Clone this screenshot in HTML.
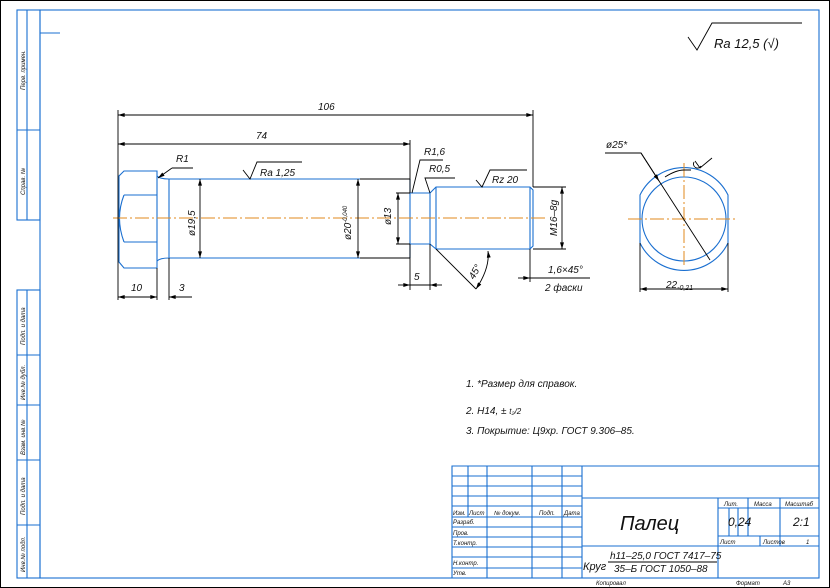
<!DOCTYPE html>
<html><head><meta charset="utf-8"><style>
html,body{margin:0;padding:0;background:#fff;}
svg{display:block;}
text{font-family:"Liberation Sans","DejaVu Sans",sans-serif;font-style:italic;fill:#111;}
</style></head><body>
<svg width="830" height="588" viewBox="0 0 830 588" xmlns="http://www.w3.org/2000/svg">
<defs>
<marker id="a" viewBox="0 0 10 6" refX="10" refY="3" markerWidth="8" markerHeight="4" orient="auto-start-reverse" markerUnits="userSpaceOnUse"><path d="M0,0 L10,3 L0,6z" fill="#000"/></marker>
</defs>
<rect x="0.5" y="0.5" width="829" height="587" fill="#fff" stroke="#000"/>
<g stroke="#1a6fd0" stroke-width="1.1" fill="none">
<rect x="40" y="10" width="779" height="568"/>
<rect x="17" y="10" width="23" height="210"/>
<line x1="27" y1="10" x2="27" y2="220"/><line x1="17" y1="130" x2="40" y2="130"/>
<rect x="17" y="290" width="23" height="288"/>
<line x1="27" y1="290" x2="27" y2="578"/>
<line x1="17" y1="355" x2="40" y2="355"/><line x1="17" y1="405" x2="40" y2="405"/>
<line x1="17" y1="460" x2="40" y2="460"/><line x1="17" y1="525" x2="40" y2="525"/>
<line x1="40" y1="33" x2="60" y2="33"/>
<path d="M452,578 V466 H819"/>
<path d="M452,476 H582 M452,486 H582 M452,496 H582 M452,506 H582 M452,517 H582 M452,527 H582 M452,537 H582 M452,547 H582 M452,557 H582 M452,568 H582"/>
<path d="M468,466 V517 M487,466 V578 M532,466 V578 M562,466 V578 M582,466 V578"/>
<path d="M582,498 H819 M718,508 H819 M718,536 H819 M582,546 H819 M718,498 V578 M748,498 V536 M780,498 V546 M729,508 V536 M738,508 V536 M760,536 V546"/>
<path d="M124,171 H157 V268 H124 L119,262 V176 Z"/>
<path d="M124,195 H157 M124,242 H157"/>
<path d="M124,195 Q115,218 124,242"/>
<path d="M157,176 Q160,179 169,179 H410 M157,261 Q160,258 169,258 H410 M169,179 V258 M410,179 V258"/>
<path d="M410,193 H430 M410,244 H430 M430,193 V244"/>
<path d="M430,193 L436,187 H530 L533,190 V246 L530,249 H436 L430,244"/>
<path d="M436,187 V249 M530,187 V249"/>
<circle cx="684" cy="219" r="42"/>
<path d="M640,195 A49,49 0 0 1 728,195 V243 A49,49 0 0 1 640,243 Z"/>
</g>
<g stroke="#e08a1e" stroke-width="1" stroke-dasharray="14,3,2,3" fill="none">
<line x1="113" y1="218" x2="545" y2="218"/>
<line x1="628" y1="219" x2="738" y2="219"/>
<line x1="684" y1="163" x2="684" y2="268"/>
</g>
<g stroke="#000" stroke-width="0.9" fill="none">
<path d="M118,110 V300 M410,140 V193 M533,110 V187 M157,268 V300 M169,258 V300"/>
<line x1="118" y1="115" x2="533" y2="115" marker-start="url(#a)" marker-end="url(#a)"/>
<line x1="118" y1="144" x2="410" y2="144" marker-start="url(#a)" marker-end="url(#a)"/>
<line x1="118" y1="297" x2="157" y2="297" marker-start="url(#a)" marker-end="url(#a)"/>
<line x1="181" y1="297" x2="169" y2="297" marker-end="url(#a)"/>
<line x1="169" y1="297" x2="192" y2="297"/>
<line x1="200" y1="179" x2="200" y2="258" marker-start="url(#a)" marker-end="url(#a)"/>
<path d="M410,179 H360 M410,258 H360"/>
<line x1="358" y1="179" x2="358" y2="258" marker-start="url(#a)" marker-end="url(#a)"/>
<path d="M396,193 H410 M396,244 H410"/>
<line x1="398" y1="193" x2="398" y2="244" marker-start="url(#a)" marker-end="url(#a)"/>
<path d="M533,187 H566 M533,249 H566"/>
<line x1="562" y1="187" x2="562" y2="249" marker-start="url(#a)" marker-end="url(#a)"/>
<path d="M410,244 V290 M430,244 V290"/>
<line x1="398" y1="285" x2="410" y2="285" marker-end="url(#a)"/>
<line x1="442" y1="285" x2="430" y2="285" marker-end="url(#a)"/>
<line x1="410" y1="285" x2="430" y2="285"/>
<path d="M436,249 L476,289"/>
<path d="M476,289 Q490,268 488,251" marker-start="url(#a)" marker-end="url(#a)"/>
<path d="M530,249 V282"/>
<line x1="518" y1="278" x2="530" y2="278" marker-end="url(#a)"/>
<path d="M530,278 H590"/>
<path d="M172,168 H193"/><line x1="172" y1="168" x2="158" y2="178" marker-end="url(#a)"/>
<path d="M243,170 L250,179 L257,162 H302"/>
<path d="M412,193 L420,160 H443"/>
<path d="M430,193 L425,178 H455"/>
<path d="M476,180 L482,187 L490,170 H527"/>
<path d="M688,37 L697,50 L712,23 H802"/>
<path d="M605,153 H641 L710,260"/>
<line x1="641" y1="153" x2="659" y2="181" marker-end="url(#a)"/>
<path d="M665,177 Q676,170 684,170 H691"/>
<path d="M695,161 L700,168 L712,158 M694,162 A4,4 0 0 0 701,166"/>
<path d="M640,243 V292 M728,243 V292"/>
<line x1="640" y1="289" x2="728" y2="289" marker-start="url(#a)" marker-end="url(#a)"/>
<path d="M608,562 H717"/>
</g>
<g font-size="10">
<text x="318" y="110">106</text>
<text x="256" y="139">74</text>
<text x="176" y="162">R1</text>
<text x="260" y="176">Ra 1,25</text>
<text x="424" y="155">R1,6</text>
<text x="429" y="172">R0,5</text>
<text x="492" y="183">Rz 20</text>
<text x="131" y="291">10</text>
<text x="179" y="291">3</text>
<text x="414" y="280">5</text>
<text x="548" y="273">1,6×45°</text>
<text x="545" y="291">2 фаски</text>
<text x="606" y="148">ø25*</text>
<text x="666" y="288">22<tspan font-size="7" dy="2">-0,21</tspan></text>
<text transform="translate(195,236) rotate(-90)">ø19,5</text>
<text transform="translate(351,240) rotate(-90)">ø20<tspan font-size="6" dy="-4">-0,040</tspan></text>
<text transform="translate(391,225) rotate(-90)">ø13</text>
<text transform="translate(557,236) rotate(-90)">M16–8g</text>
<text transform="translate(474,280) rotate(-60)">45°</text>
<text x="466" y="387">1. *Размер для справок.</text>
<text x="466" y="414">2. H14, ± <tspan font-size="8">t₂/2</tspan></text>
<text x="466" y="434">3. Покрытие: Ц9хр. ГОСТ 9.306–85.</text>
</g>
<text x="714" y="48" font-size="13">Ra 12,5 (√)</text>
<g font-size="6">
<text transform="translate(25,90) rotate(-90)">Перв. примен.</text>
<text transform="translate(25,195) rotate(-90)">Справ. №</text>
<text transform="translate(25,345) rotate(-90)">Подп. и дата</text>
<text transform="translate(25,400) rotate(-90)">Инв.№ дубл.</text>
<text transform="translate(25,455) rotate(-90)">Взам. инв.№</text>
<text transform="translate(25,515) rotate(-90)">Подп. и дата</text>
<text transform="translate(25,572) rotate(-90)">Инв.№ подл.</text>
<text x="453" y="515">Изм.</text><text x="469" y="515">Лист</text><text x="494" y="515">№ докум.</text><text x="539" y="515">Подп.</text><text x="564" y="515">Дата</text>
<text x="453" y="524">Разраб.</text><text x="453" y="535">Пров.</text><text x="453" y="545">Т.контр.</text>
<text x="453" y="565">Н.контр.</text><text x="453" y="575">Утв.</text>
<text x="724" y="506">Лит.</text><text x="754" y="506">Масса</text><text x="785" y="506">Масштаб</text>
<text x="720" y="544">Лист</text><text x="763" y="544">Листов</text><text x="806" y="544">1</text>
<text x="596" y="585">Копировал</text><text x="736" y="585">Формат</text><text x="783" y="585">А3</text>
</g>
<text x="620" y="530" font-size="20">Палец</text>
<text x="728" y="526" font-size="12">0,24</text>
<text x="793" y="526" font-size="12">2:1</text>
<text x="583" y="570" font-size="11">Круг</text>
<text x="610" y="559" font-size="10">h11–25,0 ГОСТ 7417–75</text>
<text x="614" y="572" font-size="10">35–Б ГОСТ 1050–88</text>
</svg>
</body></html>
